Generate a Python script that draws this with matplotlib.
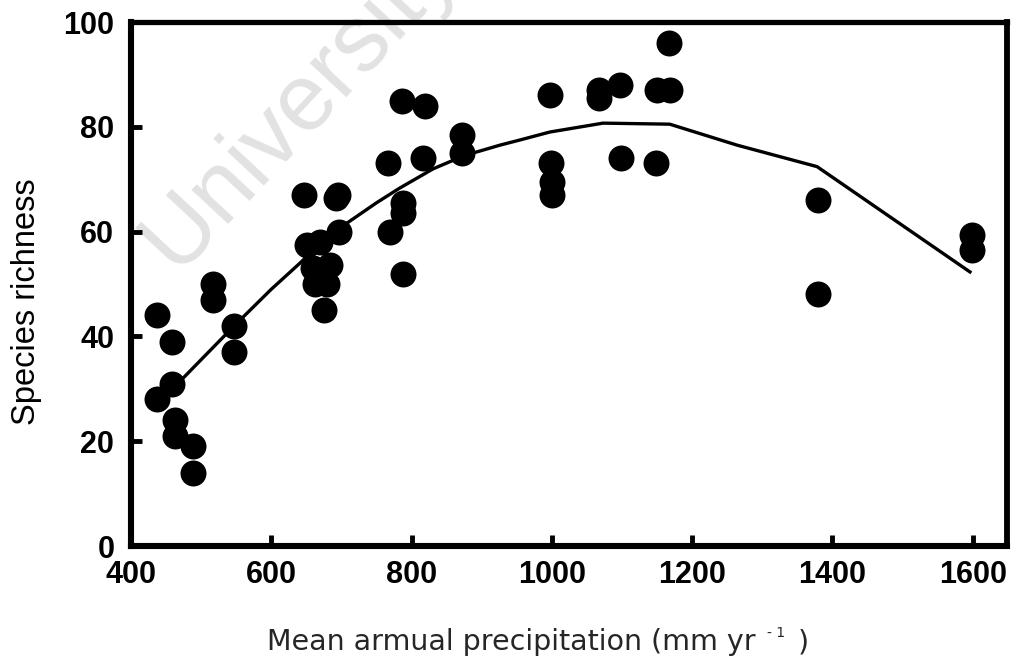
import matplotlib
matplotlib.use("Agg")
import matplotlib.pyplot as plt

# ---- data ----
precip = [437, 437, 458, 458, 463, 463, 488, 488, 517, 517, 547, 547,
          647, 651, 669, 684, 659, 662, 679, 675, 692, 695, 697,
          766, 769, 788, 788, 788, 786, 819, 816, 872, 872,
          997, 999, 1000, 1000, 1067, 1067, 1097, 1150, 1168, 1167,
          1098, 1148, 1379, 1379, 1599, 1599]
richness = [44, 28, 39, 31, 24, 21, 19, 14, 50, 47, 42, 37,
            67, 57.4, 58, 53.6, 53, 50, 50, 45, 66.5, 67, 60,
            73, 60, 65.4, 63.5, 52, 85, 84, 74, 78.4, 75,
            86, 73, 69.5, 67, 87, 85.5, 88, 87, 87, 96,
            74, 73, 66, 48, 59.4, 56.5]

fit_x = [474, 547, 600, 641, 680, 712, 750, 783, 831, 875, 926, 955, 997,
         1073, 1168, 1264, 1378, 1596]
fit_y = [32, 42, 49, 54, 59, 62, 65.5, 68.3, 72, 74.5, 76.5, 77.5, 79,
         80.7, 80.5, 76.5, 72.4, 52.3]

xticks = [400, 600, 800, 1000, 1200, 1400, 1600]
yticks = [0, 20, 40, 60, 80, 100]

W, H = 1014, 659
fig = plt.figure(figsize=(W / 100, H / 100), dpi=100)
fig.patch.set_facecolor("white")

ax = fig.add_axes([131 / W, 1 - 546 / H, 876 / W, 524 / H])
ax.patch.set_alpha(0)

ax.scatter(precip, richness, s=350, color="black", zorder=3, linewidths=0)
ax.plot(fit_x, fit_y, color="black", lw=2.4, zorder=2)

ax.set_xlim(400, 1648.8)
ax.set_ylim(0, 100)
ax.set_xticks(xticks)
ax.set_yticks(yticks)

tickfont = dict(family="Liberation Sans", size=22, weight="bold")
ax.set_xticklabels([str(v) for v in xticks], **tickfont)
ax.set_yticklabels([str(v) for v in yticks], **tickfont)
ax.tick_params(direction="in", length=8, width=3.5, color="black")
ax.tick_params(axis="x", pad=10)
ax.tick_params(axis="y", pad=12)

for side, lw in [("left", 4.4), ("bottom", 4.4), ("top", 3.8), ("right", 4.2)]:
    ax.spines[side].set_linewidth(lw)
    ax.spines[side].set_color("black")
    ax.spines[side].set_capstyle("projecting")

# y label
fig.text(27 / W, 1 - 302 / H, "Species richness", rotation=90,
         ha="center", va="center", family="Liberation Sans", fontsize=23.5)

# watermark
fig.text(176 / W, 1 - 272 / H, "University", rotation=47, rotation_mode="anchor",
         ha="left", va="baseline", family="Liberation Sans", fontsize=68,
         color="#e2e2e2", zorder=-5)

# x label built from pieces
lab_font = dict(family=["DejaVu Sans"], color="#262626")
y_base = 1 - 650 / H
t1 = fig.text(267 / W, y_base, "Mean armual precipitation (mm yr", ha="left",
              va="baseline", fontsize=20.5, **lab_font)
fig.canvas.draw()
r = fig.canvas.get_renderer()
bb = t1.get_window_extent(r)
t2 = fig.text(bb.x1 / W + 11 / W, y_base + 13 / H, "- 1", ha="left",
              va="baseline", fontsize=10, **lab_font)
bb2 = t2.get_window_extent(r)
fig.text(bb2.x1 / W + 13 / W, y_base, ")", ha="left", va="baseline",
         fontsize=20.5, **lab_font)

fig.savefig("out.png", dpi=100, facecolor="white")
